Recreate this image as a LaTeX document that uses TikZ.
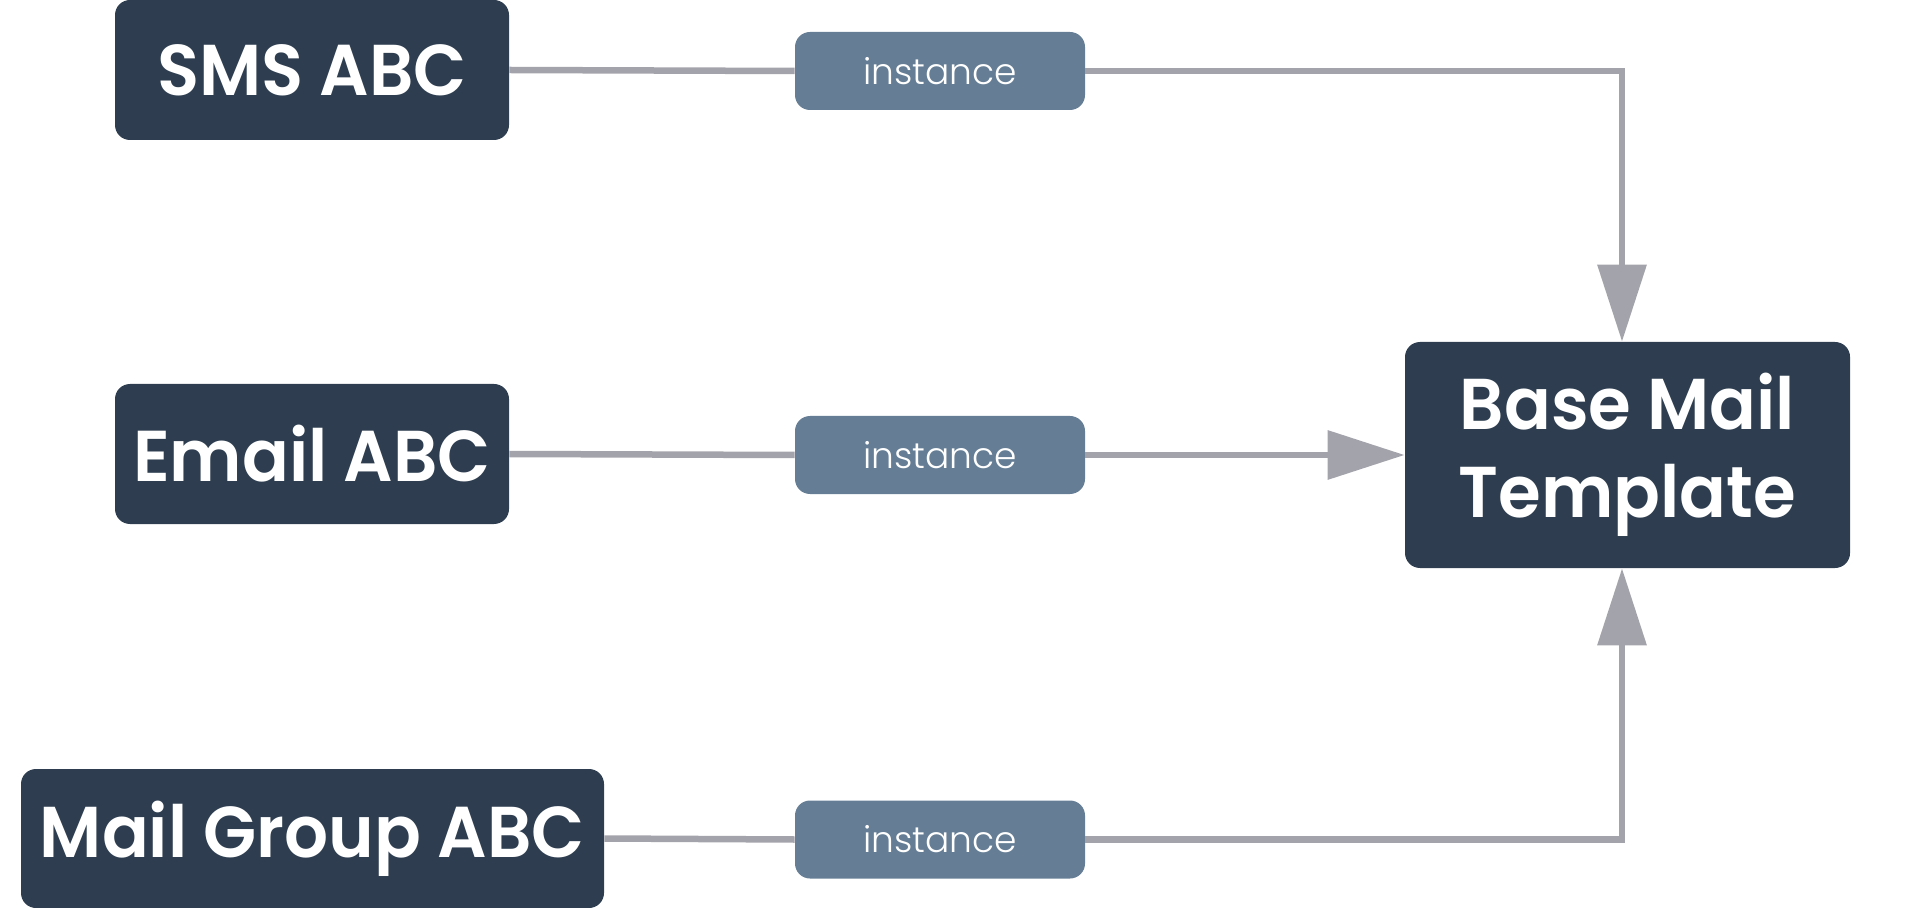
\documentclass[tikz,border=0pt]{standalone}
\usepackage{fontspec}
\setmainfont{Poppins}
\newfontfamily\boxfont{Poppins SemiBold}[FakeStretch=0.96]
\newfontfamily\lightfont{Poppins Light}
\usetikzlibrary{arrows.meta,positioning}

\definecolor{boxdark}{HTML}{2E3E50}
\definecolor{boxinst}{HTML}{657E95}
\definecolor{linegray}{HTML}{A3A3AB}

\begin{document}
\begin{tikzpicture}[x=0.5pt,y=-0.5pt,line cap=butt,
  classbox/.style={draw=none,fill=boxdark,text=white,rounded corners=7.5pt,
    inner sep=0pt,font=\fontsize{36}{44}\boxfont,align=center},
  instbox/.style={draw=none,fill=boxinst,text=white,rounded corners=7.5pt,
    inner sep=0pt,minimum width=145pt,minimum height=39pt,
    font=\fontsize{18}{20}\lightfont},
  link/.style={draw=linegray,line width=3.25pt},
  tip/.style={-{Triangle[length=38.5pt,width=24pt]}}]
  \useasboundingbox (0,0) rectangle (1920,908);

  % source classes
  \node[classbox,minimum width=197pt,minimum height=70pt] (sms) at (312,70) {SMS ABC};
  \node[classbox,minimum width=197pt,minimum height=70pt] (email) at (312,454) {Email ABC};
  \node[classbox,minimum width=291.5pt,minimum height=69.5pt] (group) at (312.5,838.5) {Mail Group ABC};

  % instance labels
  \node[instbox] (inst1) at (940,71) {instance};
  \node[instbox] (inst2) at (940,455) {instance};
  \node[instbox] (inst3) at (940,839.5) {instance};

  % target
  \node[classbox,minimum width=222.5pt,minimum height=113pt] (base) at (1627.5,455) {Base Mail\\Template};

  \coordinate (c1) at (1622,71);
  \coordinate (c3) at (1622,839.5);

  % connectors
  \draw[link] (sms.east) -- (inst1.west);
  \draw[link] (email.east) -- (inst2.west);
  \draw[link] (group.east) -- (inst3.west);
  \draw[link,tip] (inst1.east) -- (c1) -- (c1 |- base.north);
  \draw[link,tip] (inst2.east) -- (base.west);
  \draw[link,tip] (inst3.east) -- (c3) -- (c3 |- base.south);
\end{tikzpicture}
\end{document}
